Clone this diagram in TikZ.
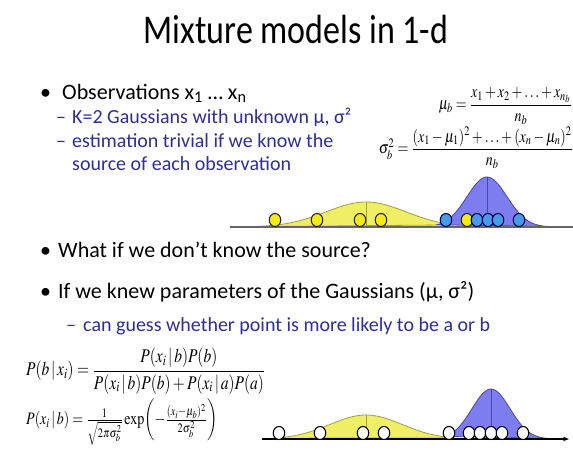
\documentclass[tikz,border=0pt]{standalone}
\usepackage{amsmath}
\usepackage{mathptmx}
\usepackage{fontspec}
\setmainfont{Carlito}
\usepackage{graphicx}
\usetikzlibrary{shapes.geometric,arrows.meta}
\definecolor{subblue}{RGB}{46,46,150}
\definecolor{yfill}{RGB}{240,238,100}
\definecolor{yline}{RGB}{160,160,60}
\definecolor{bfill}{RGB}{125,125,240}
\definecolor{bline}{RGB}{70,70,180}
\definecolor{obsblue}{RGB}{70,155,235}
\definecolor{obsyel}{RGB}{245,235,20}
\newcommand{\tallfrm}[1]{\scalebox{1}[1.25]{#1}}
\tikzset{
  ttl/.style={font=\fontsize{34}{40}\selectfont,anchor=base,inner sep=0pt},
  bul/.style={font=\fontsize{22}{26}\selectfont,anchor=base west,inner sep=0pt},
  subb/.style={font=\fontsize{20}{24}\selectfont,text=subblue,anchor=base west,inner sep=0pt},
  frm/.style={inner sep=0pt},
  obs/.style={draw,ellipse,line width=1.1pt,minimum width=11.5pt,minimum height=13pt,inner sep=0pt},
  yobs/.style={obs,fill=obsyel,draw=black!85},
  bobs/.style={obs,fill=obsblue,draw=blue!30!black},
  wobs/.style={obs,fill=white,draw=black},
  ygauss/.style={fill=yfill,draw=yline,line width=0.8pt},
  bgauss/.style={fill=bfill,draw=bline,line width=0.8pt},
  axisl/.style={draw=black!60,line width=1.4pt},
}
\begin{document}
\begin{tikzpicture}[x=1pt,y=-1pt]
  \useasboundingbox (0,0) rectangle (573,459);
  % title
  \node[ttl] (title) at (296,43) {\scalebox{1}[1.2]{Mixture models in 1-d}};
  % first block of text
  \node[bul] (b1) at (40,99) {•};
  \node[bul] (t1) at (62,99) {Observations x\textsubscript{1} … x\textsubscript{n}};
  \node[subb] (d1) at (56,123) {–};
  \node[subb] (s1) at (72,123) {K=2 Gaussians with unknown μ, σ²};
  \node[subb] (d2) at (56,147) {–};
  \node[subb] (s2) at (72,147) {estimation trivial if we know the};
  \node[subb] (s3) at (72,170) {source of each observation};
  % estimates
  \node[frm,anchor=east,font=\fontsize{14}{16}\selectfont] (mub) at (572,106)
    {\tallfrm{$\mu_b=\dfrac{x_1+x_2+\ldots+x_{n_b}}{n_b}$}};
  \node[frm,anchor=east,font=\fontsize{14}{16}\selectfont] (sigb) at (573,148)
    {\tallfrm{$\sigma_b^2=\dfrac{(x_1-\mu_1)^2+\ldots+(x_n-\mu_n)^2}{n_b}$}};
  % known sources
  \path[ygauss] plot[domain=250:455,samples=60,smooth] (\x,{227-25*exp(-((\x-366)/40)^2/2)}) -- cycle;
  \path[bgauss] plot[domain=437:547,samples=60,smooth] (\x,{227-50*exp(-((\x-487)/20)^2/2)}) -- cycle;
  \coordinate (ymb) at (366,227);
  \coordinate (ymt) at (366,202);
  \coordinate (bmb) at (487,227);
  \coordinate (bmt) at (487,177);
  \draw[yline,line width=0.8pt] (ymb) -- (ymt);
  \draw[bline,line width=0.8pt] (bmb) -- (bmt);
  \coordinate (ax1l) at (230,227);
  \coordinate (ax1r) at (573,227);
  \draw[axisl] (ax1l) -- (ax1r);
  \node[yobs] (ya1) at (275,220) {};
  \node[yobs] (ya2) at (317,220) {};
  \node[yobs] (ya3) at (360,220) {};
  \node[yobs] (ya4) at (381,220) {};
  \node[bobs] (bb1) at (446,220) {};
  \node[yobs] (ya5) at (467,220) {};
  \node[bobs] (bb2) at (477,220) {};
  \node[bobs] (bb3) at (488,220) {};
  \node[bobs] (bb4) at (498,220) {};
  \node[bobs] (bb5) at (519,220) {};
  % second block of text
  \node[bul] (b2) at (40,257) {•};
  \node[bul] (t2) at (58,257) {What if we don’t know the source?};
  \node[bul] (b3) at (40,298) {•};
  \node[bul] (t3) at (58,298) {If we knew parameters of the Gaussians (μ, σ²)};
  \node[subb] (d3) at (66,331) {–};
  \node[subb] (s4) at (83,331) {can guess whether point is more likely to be a or b};
  % posterior
  \node[frm,anchor=west,font=\fontsize{15.5}{17}\selectfont] (post) at (26,371)
    {\tallfrm{$P(b\,|\,x_i)=\dfrac{P(x_i\,|\,b)P(b)}{P(x_i\,|\,b)P(b)+P(x_i\,|\,a)P(a)}$}};
  \node[frm,anchor=west,font=\fontsize{14}{16}\selectfont] (lik) at (26,422)
    {\tallfrm{$P(x_i\,|\,b)=\tfrac{1}{\sqrt{2\pi\sigma_b^2}}\exp\biggl(-\tfrac{(x_i-\mu_b)^2}{2\sigma_b^2}\biggr)$}};
  % unknown sources
  \path[ygauss] plot[domain=272:455,samples=60,smooth] (\x,{439-24*exp(-((\x-366)/36)^2/2)}) -- cycle;
  \path[bgauss] plot[domain=445:550,samples=60,smooth] (\x,{439-50*exp(-((\x-491)/19)^2/2)}) -- cycle;
  \coordinate (ymb2) at (366,439);
  \coordinate (ymt2) at (366,415);
  \coordinate (bmb2) at (491,439);
  \coordinate (bmt2) at (491,389);
  \draw[yline,line width=0.8pt] (ymb2) -- (ymt2);
  \draw[bline,line width=0.8pt] (bmb2) -- (bmt2);
  \coordinate (ax2l) at (262,439);
  \coordinate (ax2r) at (569,439);
  \draw[line width=1.2pt,-{Stealth[length=6pt]}] (ax2l) -- (ax2r);
  \node[wobs] (w1) at (279,433) {};
  \node[wobs] (w2) at (320,433) {};
  \node[wobs] (w3) at (363,433) {};
  \node[wobs] (w4) at (384,433) {};
  \node[wobs] (w5) at (449,433) {};
  \node[wobs] (w6) at (469,433) {};
  \node[wobs] (w7) at (480,433) {};
  \node[wobs] (w8) at (491,433) {};
  \node[wobs] (w9) at (502,433) {};
  \node[wobs] (w10) at (523,433) {};
\end{tikzpicture}
\end{document}
